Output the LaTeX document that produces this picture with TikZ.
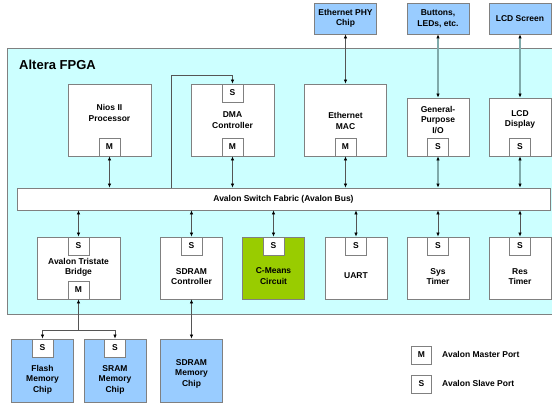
\documentclass[tikz,border=0pt]{standalone}
\usepackage{fontspec}
\setmainfont{Liberation Sans}
\usepackage{tikz}
\usetikzlibrary{positioning,arrows.meta}

\definecolor{fpgacyan}{HTML}{CCFFFF}
\definecolor{chipblue}{HTML}{99CCFF}
\definecolor{meansgreen}{HTML}{99CC00}
\definecolor{boxgray}{HTML}{808080}
\definecolor{linegray}{HTML}{555555}
\definecolor{linkteal}{HTML}{80AAAA}

\begin{document}
\begin{tikzpicture}
  [x=1pt,y=-1pt,
   every node/.style={font=\bfseries\fontsize{8.5}{10.5}\selectfont, align=center, inner sep=0pt},
   block/.style={draw=boxgray, fill=white, line width=.8pt},
   chip/.style={draw=boxgray, fill=chipblue, line width=.8pt, minimum width=62pt},
   port/.style={draw=boxgray, fill=white, line width=.8pt, minimum width=21pt, minimum height=18pt},
   link/.style={draw=linegray, line width=.7pt, >={Latex[length=4pt,width=3.5pt,color=black]}},
   wide/.style={draw=linkteal, line width=1.3pt, >={Latex[length=4pt,width=3.5pt,color=black]}}]
  \useasboundingbox (0,0) rectangle (552,404);
  \clip (0,0) rectangle (552,404);

  % FPGA area
  \fill[fpgacyan, draw=boxgray, line width=.8pt] (7,48) rectangle (558,314);
  \node[anchor=west, font=\bfseries\fontsize{13}{15}\selectfont] (title) at (19,65) {Altera FPGA};

  % top row
  \node[block, minimum width=83pt, minimum height=72pt] (nios) at (109.5,120) {};
  \node[port] (niosm) at (109.5,147) {M};
  \node (niostxt) at (109.5,113) {Nios II\\Processor};

  \node[block, minimum width=83pt, minimum height=72pt] (dma) at (232.5,120) {};
  \node[port] (dmas) at (232.5,93) {S};
  \node[port] (dmam) at (232.5,147) {M};
  \node (dmatxt) at (232.5,120) {DMA\\Controller};

  \node[block, minimum width=82pt, minimum height=72pt] (mac) at (345.5,120) {};
  \node[port] (macm) at (345.5,147) {M};
  \node (mactxt) at (345.5,121) {Ethernet\\MAC};

  \node[block, minimum width=62pt, minimum height=58pt] (gpio) at (438,127) {};
  \node[port] (gpios) at (438,147) {S};
  \node (gpiotxt) at (438,120) {General-\\Purpose\\I/O};

  \node[block, minimum width=62pt, minimum height=58pt] (lcd) at (520,127) {};
  \node[port] (lcds) at (520,147) {S};
  \node (lcdtxt) at (520,119.5) {LCD\\Display};

  % off-chip devices, top
  \node[chip, minimum height=31pt] (phy) at (345.5,18.5) {Ethernet PHY\\Chip};
  \node[chip, minimum height=31pt] (buttons) at (438,18.5) {Buttons,\\LEDs, etc.};
  \node[chip, minimum height=31pt] (screen) at (520,18.5) {LCD Screen};

  % bus
  \coordinate (tap) at (171,188);
  \coordinate (loop) at (232.5,75);
  \draw[link, ->] (tap) |- (loop) -- (dmas.north);
  \node[block, minimum width=533pt, minimum height=22pt] (bus) at (283.5,199) {Avalon Switch Fabric (Avalon Bus)};

  % bottom row
  \node[block, minimum width=83pt, minimum height=62pt] (bridge) at (78.5,268) {};
  \node[port] (bridges) at (78.5,246) {S};
  \node[port] (bridgem) at (78.5,290) {M};
  \node (bridgetxt) at (78.5,267.5) {Avalon Tristate\\Bridge};

  \node[block, minimum width=62pt, minimum height=62pt] (sdramc) at (191.5,268) {};
  \node[port] (sdramcs) at (191.5,246) {S};
  \node (sdramctxt) at (191.5,276.5) {SDRAM\\Controller};

  \node[block, fill=meansgreen, minimum width=62pt, minimum height=62pt] (cmeans) at (273.5,268) {};
  \node[port] (cmeanss) at (273.5,246) {S};
  \node (cmeanstxt) at (273.5,276) {C-Means\\Circuit};

  \node[block, minimum width=62pt, minimum height=62pt] (uart) at (356,268) {};
  \node[port] (uarts) at (356,246) {S};
  \node (uarttxt) at (356,276) {UART};

  \node[block, minimum width=62pt, minimum height=62pt] (sys) at (438,268) {};
  \node[port] (syss) at (438,246) {S};
  \node (systxt) at (438,276.5) {Sys\\Timer};

  \node[block, minimum width=62pt, minimum height=62pt] (res) at (520,268) {};
  \node[port] (ress) at (520,246) {S};
  \node (restxt) at (520,276.5) {Res\\Timer};

  % off-chip devices, bottom
  \node[chip, minimum height=63pt] (flash) at (42.5,370.5) {};
  \node[port] (flashs) at (42.5,348) {S};
  \node (flashtxt) at (42.5,379.5) {Flash\\Memory\\Chip};

  \node[chip, minimum height=63pt] (sram) at (115,370.5) {};
  \node[port] (srams) at (115,348) {S};
  \node (sramtxt) at (115,379.5) {SRAM\\Memory\\Chip};

  \node[chip, minimum height=63pt] (sdramchip) at (191.5,370.5) {};
  \node (sdramchiptxt) at (191.5,373.5) {SDRAM\\Memory\\Chip};

  % legend
  \node[port, line width=1pt, minimum width=20pt] (keym) at (421.5,355) {M};
  \node[anchor=west] (keymtxt) at (442,354) {Avalon Master Port};
  \node[port, line width=1pt, minimum width=20pt] (keys) at (421.5,384) {S};
  \node[anchor=west] (keystxt) at (442,383) {Avalon Slave Port};

  % connections
  \foreach \p in {niosm, dmam, macm}
    \draw[link, <->] (\p.south) -- (\p.south |- bus.north);
  \foreach \p in {gpios, lcds}
    \draw[wide, <->] (\p.south) -- (\p.south |- bus.north);
  \draw[link, <->] (phy.south) -- (mac.north);
  \foreach \from/\to in {buttons/gpio, screen/lcd}
    \draw[wide, <->] (\from.south) -- (\to.north);
  \foreach \p in {bridges, sdramcs, cmeanss, uarts, syss, ress}
    \draw[link, <->] (\p.north |- bus.south) -- (\p.north);
  \draw[link, <->] (sdramc.south) -- (sdramchip.north);
  \coordinate (split) at (78.5,330);
  \draw[link, <-] (bridgem.south) -- (split);
  \foreach \to in {flashs, srams}
    \draw[link, ->] (split) -| (\to.north);
\end{tikzpicture}
\end{document}
